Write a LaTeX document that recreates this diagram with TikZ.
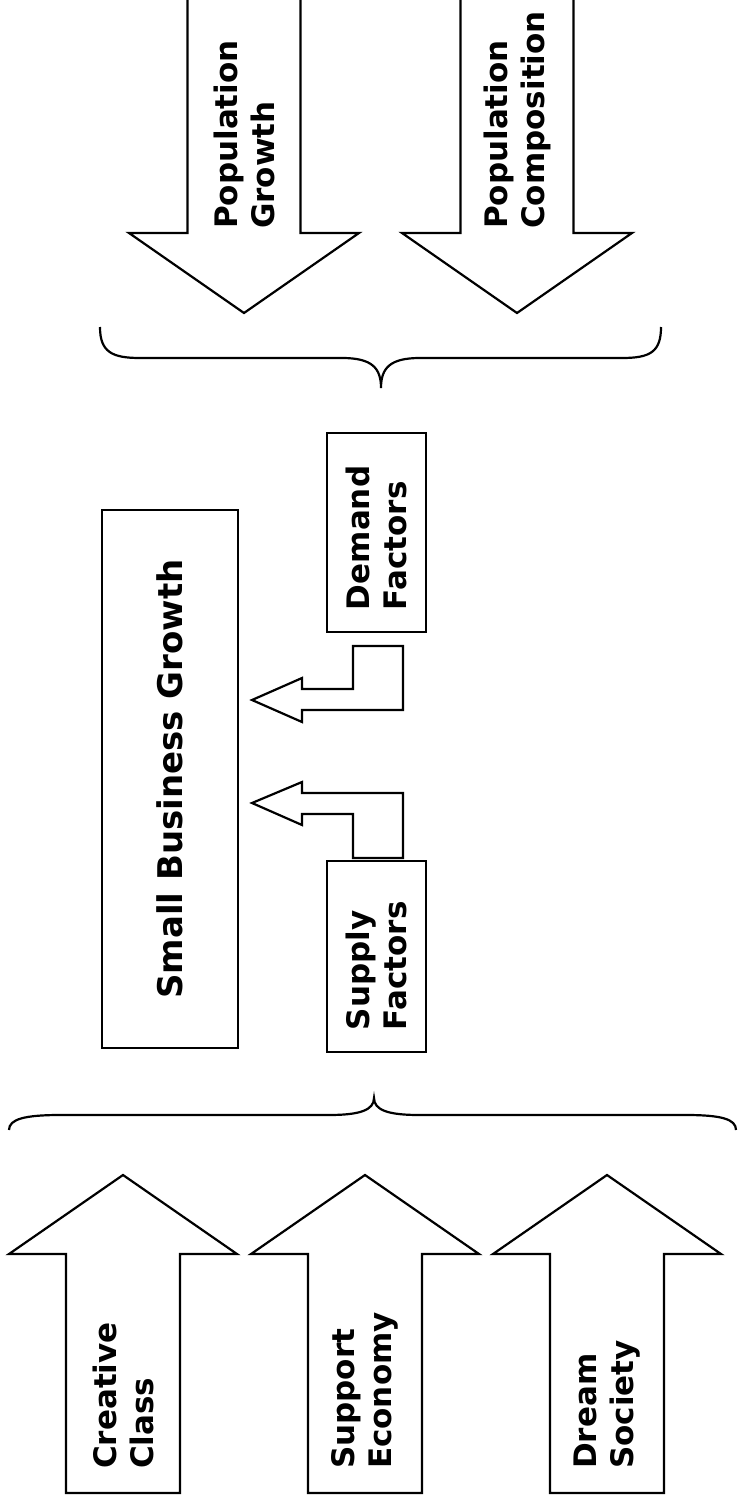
\documentclass[tikz,border=0pt]{standalone}
\usepackage{fontspec}
\setmainfont{DejaVu Sans}
\usetikzlibrary{positioning,calc}
\tikzset{
	block arrow/.style={draw=black, fill=white, line join=miter},
	factor box/.style={draw, rotate=90, align=left, inner xsep=22pt, inner ysep=0pt,
		minimum height=99pt, font=\bfseries\fontsize{31}{37}\selectfont},
	arrow text/.style={rotate=90, anchor=west, align=left, inner sep=0pt,
		font=\bfseries\fontsize{31}{37}\selectfont},
	up arrow/.pic={\draw[block arrow] (-57,1493) -- (-57,1254) -- (-114,1254) -- (0,1175)
		-- (114,1254) -- (57,1254) -- (57,1493) -- cycle;},
	down arrow/.pic={\draw[block arrow] (-56.5,-5) -- (-56.5,233) -- (-115,233) -- (0,313)
		-- (115,233) -- (56.5,233) -- (56.5,-5);}
}

\begin{document}
\begin{tikzpicture}[x=1pt, y=-1pt, line width=2.2pt]
	\useasboundingbox (0,0) rectangle (737,1506);
	% population arrows (top)
	\pic at (244,0) {down arrow};
	\pic at (517,0) {down arrow};
	% supply arrows (bottom)
	\pic at (123,0) {up arrow};
	\pic at (365,0) {up arrow};
	\pic at (607,0) {up arrow};
	\node[arrow text] (pop_growth) at (244,230) {Population\\Growth};
	\node[arrow text] (pop_comp) at (517,230) {Population\\Composition};
	\node[arrow text] (creative) at (123,1470) {Creative\\Class};
	\node[arrow text] (support) at (365,1470) {Support\\Economy};
	\node[arrow text] (dream) at (607,1470) {Dream\\Society};
	% braces
	\draw (100,327) .. controls (100,352) and (112,358) .. (140,358) -- (342,358)
		.. controls (372,358) and (381,368) .. (381,388)
		.. controls (381,368) and (390,358) .. (420,358) -- (622,358)
		.. controls (650,358) and (661,352) .. (661,327);
	\draw (9,1130) .. controls (9,1119) and (25,1115) .. (60,1115) -- (329,1115)
		.. controls (360,1115) and (374,1110) .. (374,1098)
		.. controls (374,1110) and (388,1115) .. (419,1115) -- (686,1115)
		.. controls (721,1115) and (736,1119) .. (736,1130);
	% boxes
	\node[draw, rotate=90, minimum width=538pt, minimum height=136pt,
		font=\bfseries\fontsize{34}{40}\selectfont] (sbg) at (170,779) {Small Business Growth};
	\node[factor box, text width=155pt] (demand) at (376.5,532.5) {Demand\\Factors};
	\node[factor box, text width=147pt] (supply) at (376.5,956.5) {Supply\\Factors};
	% bent arrows into sbg
	\draw[block arrow] (353,646) -- (403,646) -- (403,710) -- (302,710) -- (302,722)
		-- (252,700) -- (302,678) -- (302,689) -- (353,689) -- cycle;
	\draw[block arrow] (403,793) -- (403,858) -- (353,858) -- (353,814) -- (302,814)
		-- (302,825) -- (252,803) -- (302,782) -- (302,793) -- cycle;
\end{tikzpicture}
\end{document}
